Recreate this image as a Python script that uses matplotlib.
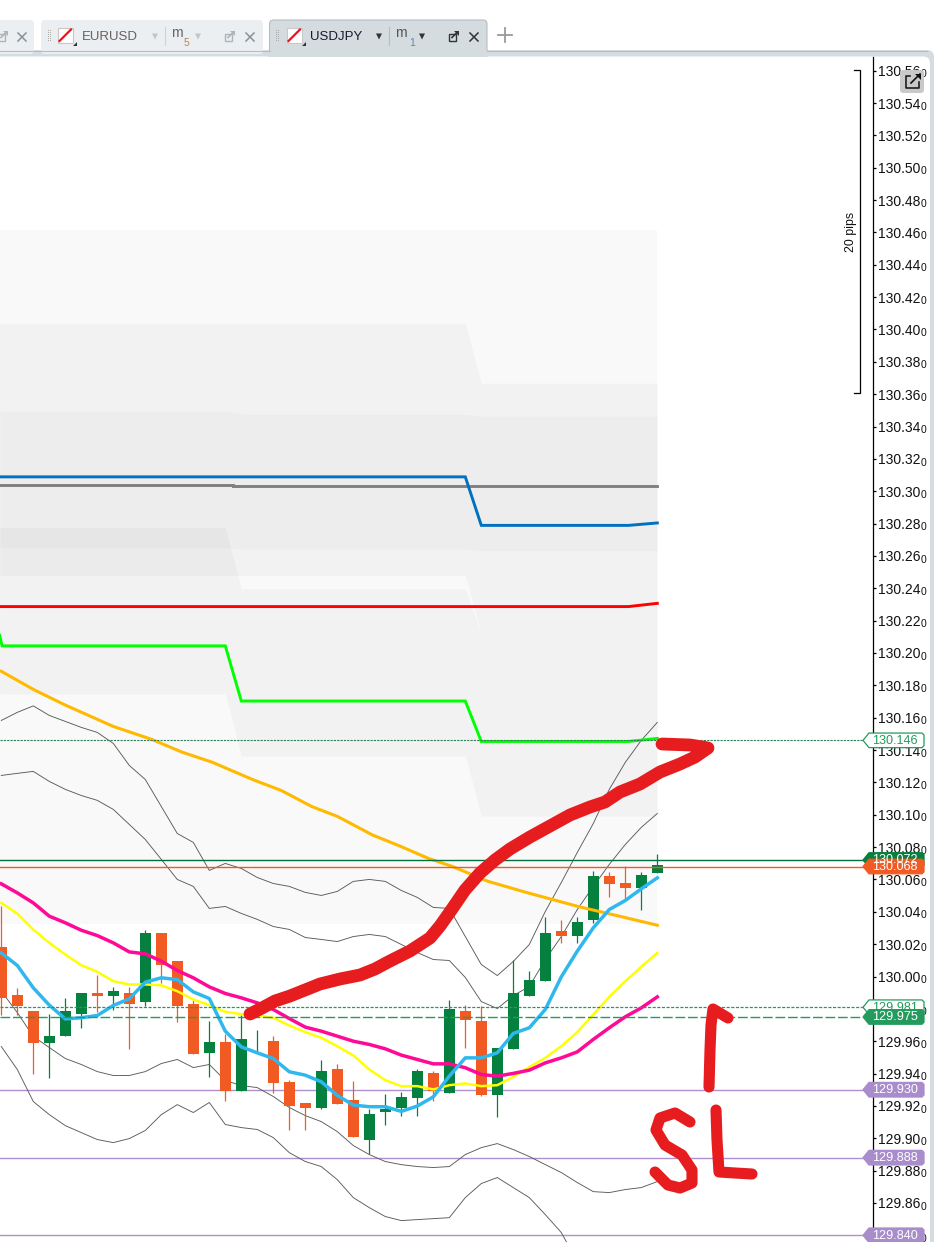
import matplotlib
matplotlib.use("Agg")
import matplotlib.pyplot as plt
from matplotlib.patches import FancyBboxPatch, Polygon, Rectangle

plt.rcParams['font.family'] = ['Liberation Sans', 'DejaVu Sans']

# ---------- candles (prices) ----------
opens = [130.0185,129.9883,129.9784,129.9588,129.9631,129.9767,129.9901,129.9878,129.9901,129.9841,
         130.0266,130.0093,129.9833,129.9526,129.9592,129.9291,129.9600,129.9604,129.9345,129.9215,
         129.9186,129.9431,129.9234,129.8989,129.9162,129.9186,129.9248,129.9401,129.9279,129.9784,
         129.9722,129.9267,129.9551,129.9878,129.9971,130.0284,130.0249,130.0348,130.0624,130.0575,
         130.0546,130.0639]
closes = [129.9864,129.9817,129.9588,129.9635,129.9784,129.9901,129.9878,129.9913,129.9829,130.0272,
          130.0070,129.9817,129.9520,129.9592,129.9291,129.9611,129.9604,129.9341,129.9199,129.9186,
          129.9413,129.9209,129.9007,129.9153,129.9178,129.9252,129.9413,129.9291,129.9796,129.9730,
          129.9267,129.9555,129.9895,129.9981,130.0272,130.0249,130.0340,130.0624,130.0571,130.0546,
          130.0630,130.0692]
highs = [130.0435,129.9926,129.9784,129.9771,129.9864,129.9901,130.0012,129.9932,129.9932,130.0290,
         130.0272,130.0093,129.9852,129.9722,129.9642,129.9765,129.9672,129.9635,129.9363,129.9221,
         129.9481,129.9456,129.9351,129.9178,129.9271,129.9283,129.9431,129.9413,129.9852,129.9821,
         129.9815,129.9555,130.0105,130.0031,130.0365,130.0352,130.0365,130.0655,130.0649,130.0682,
         130.0643,130.0760]
lows = [129.9761,129.9761,129.9396,129.9372,129.9631,129.9681,129.9780,129.9792,129.9551,129.9817,
        129.9959,129.9718,129.9520,129.9378,129.9230,129.9291,129.9536,129.9279,129.9050,129.9050,
        129.9180,129.9209,129.9007,129.8900,129.9081,129.9137,129.9137,129.9230,129.9279,129.9557,
        129.9260,129.9131,129.9551,129.9878,129.9971,130.0206,130.0206,130.0330,130.0490,130.0472,
        130.0410,130.0639]

# ---------- moving averages ----------
ema_sky = [130.0146,130.0068,129.9930,129.9823,129.9738,129.9745,129.9759,129.9821,129.9862,129.9965,
           129.9992,129.9981,129.9905,129.9864,129.9662,129.9565,129.9528,129.9493,129.9411,129.9390,
           129.9349,129.9265,129.9205,129.9195,129.9195,129.9166,129.9199,129.9256,129.9384,129.9497,
           129.9497,129.9528,129.9648,129.9683,129.9796,129.9998,130.0157,130.0301,130.0414,130.0470,
           130.0542,130.0610]
ema_yellow = [130.0455,130.0389,130.0290,130.0208,130.0136,130.0070,130.0029,129.9971,129.9951,129.9951,
              129.9946,129.9909,129.9858,129.9823,129.9782,129.9767,129.9759,129.9745,129.9697,129.9656,
              129.9621,129.9569,129.9512,129.9425,129.9359,129.9322,129.9322,129.9302,129.9328,129.9339,
              129.9322,129.9328,129.9380,129.9440,129.9497,129.9569,129.9656,129.9765,129.9874,129.9971,
              130.0060,130.0146]
ema_magenta = [130.0573,130.0517,130.0455,130.0373,130.0332,130.0286,130.0253,130.0208,130.0152,130.0140,
               130.0095,130.0037,129.9992,129.9936,129.9895,129.9868,129.9837,129.9796,129.9740,129.9687,
               129.9662,129.9631,129.9600,129.9580,129.9553,129.9514,129.9487,129.9460,129.9460,129.9436,
               129.9394,129.9384,129.9401,129.9421,129.9466,129.9497,129.9534,129.9611,129.9683,129.9751,
               129.9806,129.9874]
ema_orange_idx = [0,2,4,7,9.4,11.3,13.2,15.7,17.5,19.4,21,23.2,24.9,26.7,28.2,30.4,32.8,36.2,37.9,41]
ema_orange = [130.1887,130.1775,130.1678,130.1546,130.1466,130.1387,130.1324,130.1218,130.1150,130.1051,
              130.0990,130.0875,130.0807,130.0730,130.0680,130.0589,130.0520,130.0429,130.0390,130.0317]

# ---------- envelopes ----------
band_a = [130.1583,130.1633,130.1673,130.1614,130.1577,130.1540,130.1509,130.1441,130.1305,130.1218,
          130.1051,130.0884,130.0829,130.0656,130.0699,130.0668,130.0612,130.0575,130.0557,130.0520,
          130.0501,130.0526,130.0588,130.0600,130.0588,130.0532,130.0489,130.0427,130.0421,130.0247,
          130.0074,130.0006,130.0093,130.0198,130.0402,130.0581,130.0767,130.0946,130.1157,130.1324,
          130.1460,130.1571]
band_b = [130.1243,130.1256,130.1268,130.1206,130.1157,130.1119,130.1089,130.1033,130.0940,130.0847,
          130.0724,130.0600,130.0557,130.0421,130.0433,130.0390,130.0353,130.0309,130.0291,130.0241,
          130.0229,130.0216,130.0247,130.0260,130.0247,130.0198,130.0148,130.0105,130.0099,129.9994,
          129.9845,129.9802,129.9882,129.9938,130.0105,130.0247,130.0414,130.0557,130.0693,130.0816,
          130.0922,130.1008]
band_c = [129.9909,129.9777,129.9629,129.9561,129.9493,129.9456,129.9412,129.9388,129.9388,129.9412,
          129.9462,129.9487,129.9437,129.9456,129.9357,129.9326,129.9313,129.9258,129.9190,129.9140,
          129.9103,129.9041,129.8955,129.8899,129.8856,129.8837,129.8825,129.8819,129.8825,129.8899,
          129.8942,129.8967,129.8930,129.8887,129.8837,129.8788,129.8726,129.8670,129.8664,129.8683,
          129.8695,129.8732]
band_d = [129.9567,129.9425,129.9227,129.9146,129.9078,129.9035,129.8992,129.8973,129.8998,129.9048,
          129.9146,129.9208,129.9159,129.9221,129.9085,129.9066,129.9054,129.9004,129.8911,129.8856,
          129.8825,129.8744,129.8633,129.8571,129.8516,129.8491,129.8497,129.8503,129.8509,129.8633,
          129.8720,129.8757,129.8695,129.8633,129.8528,129.8417,129.8237]

# ---------- stepped levels ----------
blue_idx = [-0.1,29,30,39.2,41]
blue_lvl = [130.3089,130.3089,130.2789,130.2789,130.2804]
gray_idx = [-0.1,14.5,14.5,41]
gray_lvl = [130.3041,130.3041,130.3034,130.3034]
red_idx = [-0.1,39.2,41]
red_lvl = [130.2287,130.2287,130.2307]
lime_idx = [-0.1,0.05,14,15,29,30,39.2,41]
lime_lvl = [130.2109,130.2044,130.2044,130.1703,130.1703,130.1453,130.1453,130.1472]

# ---------- shaded zones ----------
zone_idx = [-0.1,14,15,29,30,41]
base_top = [130.4614]*6
base_bot = [130.0322]*6
u_top = [130.4039,130.4039,130.4039,130.4039,130.3668,130.3668]
u_bot = [130.2480,130.2480,130.2480,130.2480,130.2121,130.2121]
l_top = [130.2777,130.2777,130.2397,130.2397,130.2121,130.2121]
l_bot = [130.1746,130.1746,130.1363,130.1363,130.0991,130.0991]
x_top = [130.3496,130.3496,130.3476,130.3476,130.3465,130.3465]
x_bot = [130.2650,130.2650,130.2642,130.2642,130.2632,130.2632]

# ---------- axis and price tags ----------
tick_prices = [round(129.84 + 0.02*k, 2) for k in range(37)]
tag_prices = [130.146, 130.072, 130.068, 129.981, 129.975, 129.930, 129.888, 129.840]
tag_labels = ['130.146','130.072','130.068','129.981','129.975','129.930','129.888','129.840']
tag_fill = ['#ffffff','#05803f','#f15a22','#ffffff','#249b5d','#a98ccc','#a98ccc','#a98ccc']
tag_edge = ['#249b5d','#05803f','#f15a22','#249b5d','#249b5d','#a98ccc','#a98ccc','#a98ccc']
tag_text = ['#249b5d','#ffffff','#ffffff','#249b5d','#ffffff','#ffffff','#ffffff','#ffffff']

# ---------- hand-drawn strokes (screen pixels) ----------
arrow_x = [250,262,275,290,305,320,340,360,375,390,410,430,440,452,465,480,495,510,530,550,570,590,605,620,640,660,680,695,708,690,662]
arrow_y = [1014,1008,1001,996,990,984,979,975,969,961,951,938,926,909,890,873,860,849,837,826,815,807,802,792,784,772,764,757,748,745,744]
sl_arrow_x = [709,710,711,713,728]
sl_arrow_y = [1087,1050,1025,1009,1018]
s_x = [690,675,660,656,665,682,692,692,680,668,655]
s_y = [1122,1113,1118,1130,1145,1155,1170,1183,1188,1185,1172]
l_x = [716,717,719,735,752]
l_y = [1110,1140,1172,1173,1174]

W, H = 940, 1242
fig = plt.figure(figsize=(W/100, H/100), dpi=100, facecolor='white')

# background chrome
bg = fig.add_axes([0,0,1,1], zorder=0)
bg.set_xlim(0,W); bg.set_ylim(H,0); bg.axis('off')
GRAY = '#d5dce0'; LINE = '#b7bec3'
bg.add_patch(FancyBboxPatch((-20,50),954,1230,boxstyle='round,pad=0,rounding_size=7',fc=GRAY,ec='none'))
bg.add_patch(FancyBboxPatch((-20,56.5),950,1230,boxstyle='round,pad=0,rounding_size=7',fc='white',ec='none'))
for x0,x1,c,ec in [(-20,34,'#ebeff2','none'),(41,263,'#ebeff2','none'),(269.5,487,GRAY,LINE)]:
    bg.add_patch(FancyBboxPatch((x0,20),x1-x0,34,boxstyle='round,pad=0,rounding_size=4',fc=c,ec=ec,lw=.8))
bg.add_patch(Rectangle((268,50.5),220,6,fc=GRAY,ec='none'))
bg.plot([-20,269.5],[50.5,50.5],color=LINE,lw=.8)
bg.plot([487,927],[50.5,50.5],color=LINE,lw=.8)

def icon(x):
    bg.add_patch(Rectangle((x,28),14.5,14.5,fc='white',ec='#c8c8c8',lw=.8))
    bg.plot([x+1.5,x+13],[41,29.5],color='#e8141c',lw=1.6)
    bg.add_patch(Polygon([(x+15,46),(x+19,46),(x+19,42)],fc='#333333',ec='none'))
def link(x,c):
    bg.add_patch(Rectangle((x-4,33.5),7,7,fc='none',ec=c,lw=1))
    bg.plot([x-1,x+4.5],[37.5,32],color=c,lw=1.2)
    bg.add_patch(Polygon([(x+1,31),(x+5.5,31),(x+5.5,35.5)],fc=c,ec='none'))
def close(x,c):
    bg.plot([x-4,x+4],[33,41],color=c,lw=1.1); bg.plot([x-4,x+4],[41,33],color=c,lw=1.1)
def tri(x,c):
    bg.add_patch(Polygon([(x-3,33.5),(x+3,33.5),(x,39.5)],fc=c,ec='none'))
def grip(x):
    bg.scatter([x,x+2]*6,[30+2*k for k in range(6) for _ in (0,1)],s=.5,c='#a9a9a9',linewidths=0)

link(2,'#aeb4b8'); close(22,'#8b9297')
grip(48); icon(58)
bg.text(82,36.5,'EURUSD',fontsize=9.5,color='#6b5f5f',va='center')
tri(155,'#c3c6c8'); bg.plot([164.5,164.5],[27,45],color='#cfd3d6',lw=.8)
bg.text(171,33,'m',fontsize=10,color='#666666',va='center'); bg.text(183.5,43,'5',fontsize=7.5,color='#b08a5a',va='center')
tri(198,'#c3c6c8'); link(229,'#aeb4b8'); close(250,'#8b9297')
grip(276); icon(287)
bg.text(310,36.5,'USDJPY',fontsize=9.5,color='#191930',va='center')
tri(379,'#333333'); bg.plot([389,389],[27,45],color='#b5bcc1',lw=.8)
bg.text(395.5,33,'m',fontsize=10,color='#555555',va='center'); bg.text(409,43,'1',fontsize=7.5,color='#5c86b8',va='center')
tri(422,'#333333'); link(453,'#333333'); close(474,'#333333')
bg.plot([498,512],[35,35],color='#9a9a9a',lw=1.3); bg.plot([505,505],[28,42],color='#9a9a9a',lw=1.3)

# main chart
ax_left, ax_right, ax_top, ax_bottom = 0, 873, 56.5, 1242
ax = fig.add_axes([ax_left/W, 1-ax_bottom/H, (ax_right-ax_left)/W, (ax_bottom-ax_top)/H], zorder=1)
ax.patch.set_alpha(0)
ax.set_xlim((ax_left-1.3)/16, (ax_right-1.3)/16)
ax.set_ylim(130-(ax_bottom-976.5)/1617.5, 130+(976.5-ax_top)/1617.5)
for s in ('left','top','bottom'):
    ax.spines[s].set_visible(False)
ax.spines['right'].set_linewidth(.9)
ax.yaxis.tick_right()
ax.set_xticks([])
ax.set_yticks(tick_prices)
ax.set_yticklabels([f'{p:.2f}' for p in tick_prices], fontsize=10, color='#111111')
ax.tick_params(axis='y', length=2.5, width=.9, pad=.9)
for p in tick_prices:
    ax.annotate('0', xy=(1,p), xycoords=ax.get_yaxis_transform(), xytext=(34.4,-2.6),
                textcoords='offset points', fontsize=7.4, color='#111111', va='center', annotation_clip=False)

ax.fill_between(zone_idx, base_bot, base_top, color='black', alpha=.024, lw=0, zorder=1)
ax.fill_between(zone_idx, u_bot, u_top, color='black', alpha=.028, lw=0, zorder=1)
ax.fill_between(zone_idx, l_bot, l_top, color='black', alpha=.028, lw=0, zorder=1)
ax.fill_between(zone_idx, x_bot, x_top, color='black', alpha=.018, lw=0, zorder=1)

idx = list(range(len(opens)))
cols = ['#05803f' if c >= o else '#f15a22' for o,c in zip(opens,closes)]
for p in (129.930,129.888,129.840):
    ax.axhline(p, color='#b08fd0', lw=1, zorder=2)
for vals in (band_a, band_b, band_c, band_d):
    ax.plot(range(len(vals)), vals, color='#5a5a5a', lw=.65, zorder=2)
ax.vlines(idx, lows, highs, colors=cols, lw=.9, zorder=3)
ax.bar(idx, [abs(c-o) for o,c in zip(opens,closes)], bottom=[min(o,c) for o,c in zip(opens,closes)],
       width=11/16, color=cols, lw=0, zorder=3.5)

ax.plot(gray_idx, gray_lvl, color='#808080', lw=2.1, zorder=4, solid_joinstyle='miter')
ax.plot(blue_idx, blue_lvl, color='#0070c0', lw=2.1, zorder=4, solid_joinstyle='miter')
ax.plot(red_idx, red_lvl, color='#ff0000', lw=2.1, zorder=4, solid_joinstyle='miter')
ax.plot(lime_idx, lime_lvl, color='#00ff00', lw=2.1, zorder=4, solid_joinstyle='miter')
ax.plot(ema_orange_idx, ema_orange, color='#ffb900', lw=2.2, zorder=4)
ax.plot(idx, ema_yellow, color='#ffff00', lw=1.8, zorder=4)
ax.plot(idx, ema_magenta, color='#ff0a96', lw=2.5, zorder=4.1)
ax.plot(idx, ema_sky, color='#2fb8ee', lw=2.5, zorder=4.2)

ax.axhline(130.146, color='#2f7f58', lw=.8, ls=(0,(2,1)), zorder=4.5)
ax.axhline(130.072, color='#05703a', lw=1, zorder=4.5)
ax.axhline(130.068, color='#f15a22', lw=1, zorder=4.5)
ax.axhline(129.981, color='#249b5d', lw=.9, ls=(0,(2.5,1.2)), zorder=4.5)
ax.axhline(129.975, color='#249b5d', lw=1, ls=(0,(7,2)), zorder=4.5)

# overlay: scale bar, tags, icon, strokes
ov = fig.add_axes([0,0,1,1], zorder=2)
ov.set_xlim(0,W); ov.set_ylim(H,0); ov.axis('off'); ov.patch.set_alpha(0)
ov.plot([853.5,860,860,853.5],[70,70,393,393],color='black',lw=.9,solid_joinstyle='miter')
ov.text(851,232,'20 pips',rotation=90,fontsize=8.9,color='#111111',ha='center',va='center')

fig.canvas.draw()
for p,lab,fc,ec,tc in zip(tag_prices,tag_labels,tag_fill,tag_edge,tag_text):
    y = H - ax.transData.transform((0,p))[1]
    ov.add_patch(Polygon([(863,y),(869,y-7.3),(922,y-7.3),(924,y-5.3),(924,y+5.3),(922,y+7.3),(869,y+7.3)],
                         closed=True,fc=fc,ec=ec,lw=.9,zorder=3))
    ov.text(872.5,y+.3,lab,fontsize=9.1,color=tc,va='center',ha='left',zorder=3.1)

ov.add_patch(FancyBboxPatch((900,70),24,23,boxstyle='round,pad=0,rounding_size=3',fc='#c9c9c9',ec='none',zorder=4))
ov.plot([910,906,906,919,919],[76,76,88,88,82],color='#111111',lw=1.1,zorder=5)
ov.plot([911,920],[83,74],color='#111111',lw=1.2,zorder=5)
ov.add_patch(Polygon([(915,73.5),(921,73.5),(921,79.5)],fc='#111111',ec='none',zorder=5))

RED = '#e61c1f'
for xs,ys,lw in [(arrow_x,arrow_y,9.2),(sl_arrow_x,sl_arrow_y,8),(s_x,s_y,8),(l_x,l_y,8)]:
    ov.plot(xs,ys,color=RED,lw=lw,solid_capstyle='round',solid_joinstyle='round',zorder=6)

fig.savefig('out.png', dpi=100)
